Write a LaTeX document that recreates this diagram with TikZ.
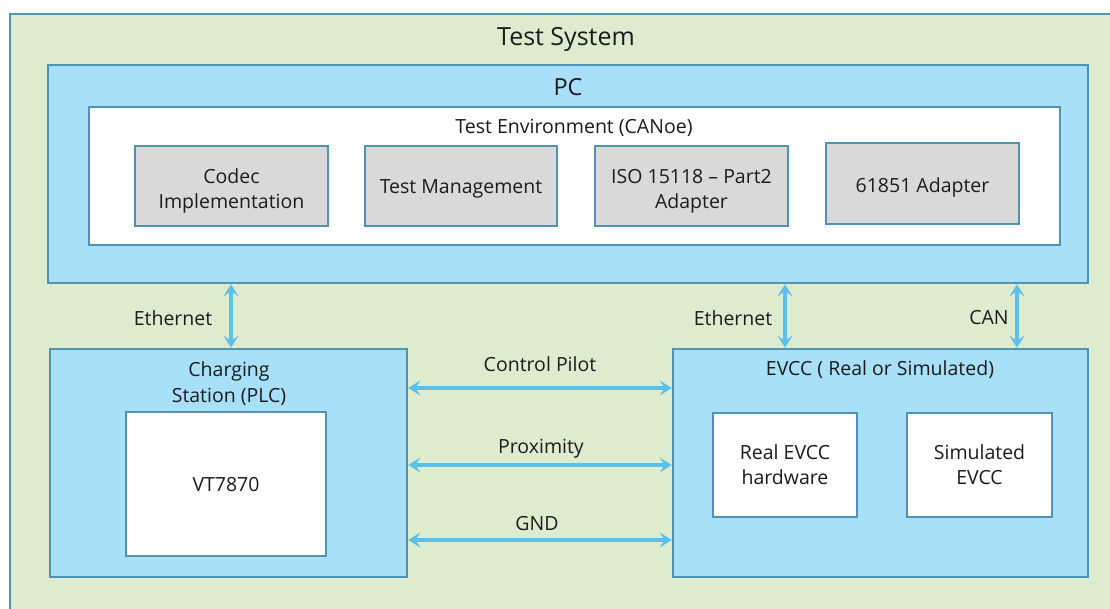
\documentclass[tikz,border=0pt]{standalone}
\usepackage{fontspec}
\setmainfont{Open Sans}
\usetikzlibrary{arrows.meta}
\definecolor{sysgreen}{RGB}{221,235,207}
\definecolor{boxblue}{RGB}{168,224,250}
\definecolor{edgeblue}{RGB}{80,148,180}
\definecolor{boxgray}{RGB}{217,217,217}
\definecolor{linkblue}{RGB}{92,192,236}
\definecolor{ink}{RGB}{28,28,28}
\tikzset{
  txt/.style={text=ink, align=center, font=\fontsize{19.5}{25.5}\selectfont},
  frame/.style={draw=edgeblue, line width=2.6pt, rectangle, inner sep=0pt},
  bluebox/.style={frame, fill=boxblue},
  whitebox/.style={frame, fill=white, txt},
  graybox/.style={frame, fill=boxgray, txt},
  oneline/.style={text height=19pt, text depth=5pt},
  twoline/.style={text height=44.5pt, text depth=5pt},
  lbl/.style={txt, inner sep=0pt},
  link/.style={draw=linkblue, line width=3.6pt,
    {Stealth[length=12pt,width=15pt,inset=5pt]}-{Stealth[length=12pt,width=15pt,inset=5pt]}},
}
\begin{document}
\begin{tikzpicture}[x=1pt,y=-1pt]
\useasboundingbox (0,0) rectangle (1110,608);
\clip (0,0) rectangle (1110,608);
\fill[white] (0,0) rectangle (1110,608);

% outer system frame (runs past the right and bottom edges)
\node[frame, fill=sysgreen, minimum width=1130pt, minimum height=620pt] (sys) at (575,324) {};
\node[lbl, font=\fontsize{25}{30}\selectfont] (systitle) at (566,39) {Test System};

% PC with the CANoe test environment
\node[bluebox, minimum width=1040pt, minimum height=218pt] (pc) at (568,174) {};
\node[lbl, font=\fontsize{23.5}{28}\selectfont] (pctitle) at (568,87.5) {PC};
\node[frame, fill=white, minimum width=971pt, minimum height=138pt] (env) at (574.5,176) {};
\node[lbl] (envtitle) at (574,128) {Test Environment (CANoe)};

\node[graybox, twoline, text height=50pt, minimum width=193pt, minimum height=80pt] (codec) at (231.5,186) {Codec\\Implementation};
\node[graybox, oneline, minimum width=192pt, minimum height=80pt] (tm) at (461,186) {Test Management};
\node[graybox, twoline, text height=50pt, minimum width=193pt, minimum height=80pt] (iso) at (691.5,186) {ISO 15118 -- Part2\\Adapter};
\node[graybox, oneline, text height=22pt, minimum width=193pt, minimum height=81pt] (adp) at (922.5,183.5) {61851 Adapter};

% charging station
\node[bluebox, minimum width=357pt, minimum height=228pt] (cs) at (228.5,463) {};
\node[lbl] (cstitle) at (229,383.5) {Charging\\Station (PLC)};
\node[whitebox, oneline, minimum width=200pt, minimum height=144pt] (vt) at (226,484) {VT7870};

% EVCC
\node[bluebox, minimum width=415pt, minimum height=228pt] (evcc) at (880.5,463) {};
\node[lbl] (evcctitle) at (880,370) {EVCC ( Real or Simulated)};
\node[whitebox, twoline, minimum width=144pt, minimum height=104pt] (real) at (785,465) {Real EVCC\\hardware};
\node[whitebox, twoline, minimum width=145pt, minimum height=104pt] (sim) at (979.5,465) {Simulated\\EVCC};

% links between PC and the devices
\coordinate (ethL) at (231,0);
\coordinate (ethR) at (785,0);
\coordinate (canx) at (1017,0);
\draw[link] (pc.south -| ethL) -- (cs.north -| ethL);
\draw[link] (pc.south -| ethR) -- (evcc.north -| ethR);
\draw[link] (pc.south -| canx) -- (evcc.north -| canx);
\node[lbl] (ethLlbl) at (173,318) {Ethernet};
\node[lbl] (ethRlbl) at (733,318) {Ethernet};
\node[lbl] (canlbl) at (989,318) {CAN};

% charging cable signals
\coordinate (cp) at (0,388);
\coordinate (px) at (0,465);
\coordinate (gnd) at (0,540);
\draw[link] (cs.east |- cp) -- (evcc.west |- cp);
\draw[link] (cs.east |- px) -- (evcc.west |- px);
\draw[link] (cs.east |- gnd) -- (evcc.west |- gnd);
\node[lbl] (cplbl) at (540,364.5) {Control Pilot};
\node[lbl] (pxlbl) at (541,449) {Proximity};
\node[lbl] (gndlbl) at (537,523.5) {GND};
\end{tikzpicture}
\end{document}
